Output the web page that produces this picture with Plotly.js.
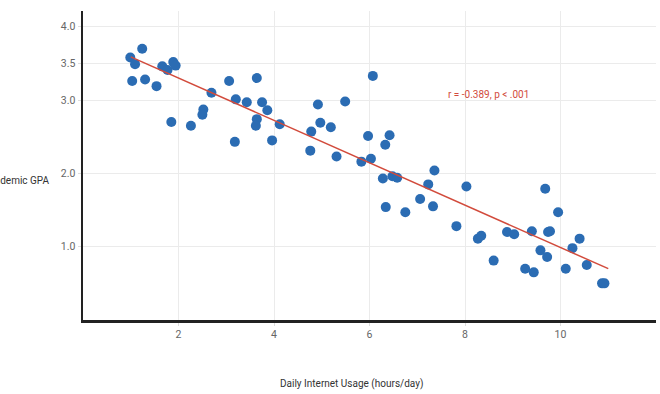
<!DOCTYPE html>
<html>
<head>
<meta charset="utf-8">
<script src="https://cdn.plot.ly/plotly-3.0.1.min.js"></script>
<style>html,body{margin:0;padding:0;background:#fff;}#chart{width:660px;height:394px;}</style>
</head>
<body>
<div id="chart"></div>
<script>
const usageHours = [0.99,1.09,1.24,1.03,1.30,1.54,1.66,1.77,1.89,1.94,2.69,2.52,2.50,1.85,2.26,
  3.06,3.20,3.43,3.64,3.75,3.86,3.64,3.62,3.18,3.96,4.12,4.92,5.49,6.07,4.97,5.19,4.78,4.76,5.31,5.97,6.42,6.33,5.83,6.03,
  6.28,6.48,6.58,7.23,6.34,6.75,7.06,
  7.36,7.33,8.03,7.82,8.27,8.34,8.60,8.88,9.03,9.26,9.44,9.40,9.68,9.58,9.72,9.74,9.78,9.95,10.25,10.40,10.11,10.55,10.87,10.92];
const gpa = [3.58,3.49,3.70,3.26,3.28,3.19,3.46,3.41,3.52,3.47,3.10,2.87,2.80,2.70,2.65,
  3.26,3.01,2.97,3.30,2.97,2.86,2.74,2.65,2.43,2.45,2.67,2.94,2.98,3.33,2.69,2.63,2.57,2.31,2.23,2.51,2.52,2.39,2.16,2.20,
  1.93,1.96,1.94,1.85,1.54,1.47,1.65,
  2.04,1.55,1.82,1.28,1.11,1.15,0.81,1.20,1.17,0.70,0.65,1.21,1.79,0.95,0.86,1.20,1.21,1.47,0.98,1.11,0.70,0.75,0.50,0.50];
const fitX = [1.0, 11.0];
const fitY = [3.59, 0.70];
const yTicks = [1.0, 2.0, 3.0, 3.5, 4.0];
const yTickText = ['1.0', '2.0', '3.0', '3.5', '4.0'];
const xTicks = [2, 4, 6, 8, 10];
const statText = 'r = -0.389, p < .001';

const font = 'Roboto, "Liberation Sans", sans-serif';
const traces = [
  {x: usageHours, y: gpa, type: 'scatter', mode: 'markers',
   marker: {color: '#2b6cb3', size: 10}, hoverinfo: 'skip'},
  {x: fitX, y: fitY, type: 'scatter', mode: 'lines',
   line: {color: '#d24b3c', width: 1.5}, hoverinfo: 'skip'}
];
const layout = {
  width: 660, height: 394,
  margin: {l: 83, r: 4, t: 11, b: 74},
  paper_bgcolor: '#fff', plot_bgcolor: '#fff',
  showlegend: false,
  font: {family: font, size: 10, color: '#555'},
  xaxis: {range: [0, 12], tickvals: xTicks, ticktext: xTicks.map(String),
    showgrid: true, gridcolor: '#ebebeb', gridwidth: 1, zeroline: false,
    showline: true, linecolor: '#222', linewidth: 2.5,
    ticks: 'outside', ticklen: 3, tickcolor: '#ddd',
    tickfont: {family: font, size: 10.5, color: '#666'}},
  yaxis: {range: [0, 4.215], tickvals: yTicks, ticktext: yTickText,
    showgrid: true, gridcolor: '#ebebeb', gridwidth: 1, zeroline: false,
    showline: true, linecolor: '#222', linewidth: 2.5,
    ticks: 'outside', ticklen: 3, tickcolor: '#ddd',
    tickfont: {family: font, size: 10.5, color: '#666'}},
  annotations: [
    {text: statText, x: 8.5, y: 3.08, xref: 'x', yref: 'y', showarrow: false,
     font: {family: font, size: 10, color: '#d24b3c'}, xanchor: 'center', yanchor: 'middle'},
    {text: 'Academic GPA', x: -0.0535, y: 0.451, xref: 'paper', yref: 'paper', showarrow: false,
     font: {family: font, size: 10, color: '#333'}, xanchor: 'right', yanchor: 'middle'},
    {text: 'Daily Internet Usage (hours/day)', x: 0.468, y: -0.207, xref: 'paper', yref: 'paper', showarrow: false,
     font: {family: font, size: 10, color: '#333'}, xanchor: 'center', yanchor: 'middle'}
  ]
};
Plotly.newPlot('chart', traces, layout, {staticPlot: true, displayModeBar: false});
</script>
</body>
</html>
